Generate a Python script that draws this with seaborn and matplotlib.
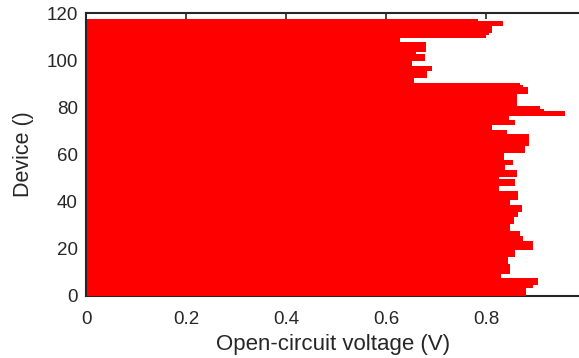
import matplotlib
matplotlib.use("Agg")
import matplotlib.pyplot as plt
import seaborn as sns
import numpy as np
import pandas as pd

voc = [
    0.879, 0.879, 0.879, 0.879, 0.894, 0.903, 0.903, 0.903, 0.830, 0.830,
    0.848, 0.848, 0.848, 0.848, 0.843, 0.843, 0.843, 0.857, 0.857, 0.857,
    0.893, 0.893, 0.893, 0.893, 0.873, 0.873, 0.868, 0.868, 0.847, 0.847,
    0.847, 0.855, 0.855, 0.855, 0.863, 0.863, 0.871, 0.871, 0.871, 0.848,
    0.848, 0.863, 0.863, 0.863, 0.863, 0.825, 0.825, 0.857, 0.857, 0.857,
    0.825, 0.861, 0.861, 0.861, 0.837, 0.837, 0.853, 0.853, 0.835, 0.835,
    0.835, 0.878, 0.878, 0.878, 0.886, 0.886, 0.886, 0.886, 0.886, 0.841,
    0.841, 0.811, 0.811, 0.858, 0.858, 0.845, 0.845, 0.957, 0.957, 0.915,
    0.907, 0.861, 0.861, 0.861, 0.861, 0.861, 0.883, 0.883, 0.883, 0.873,
    0.867, 0.655, 0.655, 0.682, 0.682, 0.682, 0.691, 0.691, 0.652, 0.652,
    0.678, 0.678, 0.678, 0.660, 0.679, 0.679, 0.679, 0.679, 0.628, 0.628,
    0.799, 0.806, 0.811, 0.811, 0.811, 0.834, 0.834, 0.783,
]
device = list(range(len(voc)))
x_ticks = [0, 0.2, 0.4, 0.6, 0.8]
x_ticklabels = ["0", "0.2", "0.4", "0.6", "0.8"]
y_ticks = [0, 20, 40, 60, 80, 100, 120]

sns.set_theme(style="white")
plt.rcParams["font.family"] = ["Liberation Sans", "DejaVu Sans"]

fig = plt.figure(figsize=(5.79, 3.58), dpi=100)
ax = fig.add_axes([86 / 579, (358 - 296) / 358, (581 - 86) / 579, (296 - 13) / 358])

df = pd.DataFrame({"voc": voc, "device": device})
sns.barplot(data=df, x="voc", y="device", orient="y", native_scale=True,
            width=1.0, color="#ff0000", saturation=1, linewidth=0, ax=ax)
for p in ax.patches:
    p.set_zorder(3)

ax.set_xlim(0, 0.99)
ax.set_ylim(0, 120)
ax.set_xticks(x_ticks)
ax.set_xticklabels(x_ticklabels)
ax.set_yticks(y_ticks)
ax.set_xlabel("Open-circuit voltage (V)", fontsize=16, color="#262626", labelpad=4)
ax.set_ylabel("Device ()", fontsize=15.5, color="#262626", labelpad=8.5)
ax.tick_params(axis="both", direction="in", length=4, width=1.2, colors="#262626",
               labelsize=13.5, top=True, right=False, bottom=True, left=True)
ax.tick_params(axis="x", pad=11)
ax.tick_params(axis="y", pad=6)
for s in ax.spines.values():
    s.set_visible(True)
    s.set_color("#262626")
    s.set_linewidth(1.5)
ax.spines["right"].set_visible(False)
ax.spines["left"].set_zorder(4)
ax.spines["top"].set_zorder(4)

fig.savefig("out.png", dpi=100)
